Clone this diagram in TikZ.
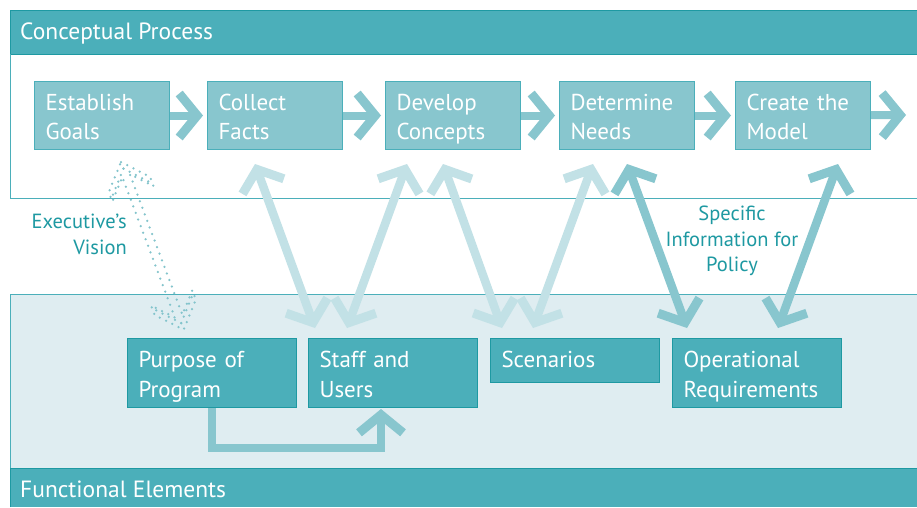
\documentclass[tikz,border=0pt]{standalone}
\usepackage{fontspec}
\setmainfont{PT Sans}
\usetikzlibrary{arrows.meta,calc}

\definecolor{tealdark}{HTML}{1E99A2}
\definecolor{tealmid}{HTML}{4BAFBA}
\definecolor{teallight}{HTML}{88C6CE}
\definecolor{tealpale}{HTML}{C2E1E6}
\definecolor{tealbg}{HTML}{DFEDF1}

\tikzset{
  chev/.tip={Straight Barb[length=18pt,width=44pt,line width=9pt]},
  conceptbox/.style={draw=tealmid,fill=teallight,line width=1pt,text=white,
    anchor=north west,minimum width=135pt,minimum height=68pt,
    text width=113pt,inner xsep=11pt,inner ysep=0pt,align=left,
    font=\fontsize{23}{29}\selectfont,
    execute at begin node={\rule{0pt}{24pt}},
    execute at end node={\rule[-5pt]{0pt}{5pt}}},
  elementbox/.style={conceptbox,draw=tealdark,fill=tealmid,
    minimum width=169pt,text width=147pt,minimum height=69pt,
    font=\fontsize{23}{30}\selectfont},
  flow/.style={draw=teallight,line width=8pt,line join=miter,-{chev}},
  paired/.style={draw=tealpale,line width=8.5pt,{chev}-{chev}},
  dotline/.style={draw=teallight!95!tealdark,line width=2.5pt,line cap=round,
    dash pattern=on 0pt off 7pt},
  bandtext/.style={text=white,anchor=base west,inner sep=0pt,
    font=\fontsize{23.5}{27}\selectfont},
  note/.style={text=tealdark,inner sep=0pt,font=\fontsize{20.5}{25.5}\selectfont}
}

\begin{document}
\begin{tikzpicture}[x=1pt,y=-1pt]
  \useasboundingbox (0,0) rectangle (917,507);
  \fill[white] (0,0) rectangle (917,507);

  % ---------------------------------------------- upper band: conceptual process
  \fill[tealmid] (10,10) rectangle (917,54);
  \draw[tealdark,line width=1pt] (917,10) -- (10,10) -- (10,54) -- (917,54);
  \node[bandtext] (cptitle) at (20,39) {Conceptual Process};
  \draw[tealmid,line width=1pt] (10,54) -- (10,198) -- (917,198);

  % ---------------------------------------------- lower band: functional elements
  \fill[tealbg] (10,294) rectangle (917,468);
  \draw[tealmid,line width=1pt] (917,294) -- (10,294) -- (10,468);
  \fill[tealmid] (10,468) rectangle (917,507);
  \draw[tealdark,line width=1pt] (10,507) -- (10,468) -- (917,468);
  \node[bandtext] (fetitle) at (20,497) {Functional Elements};

  % process steps
  \node[conceptbox] (goals)    at (34,81)  {Establish\\Goals};
  \node[conceptbox] (facts)    at (207,81) {Collect\\Facts};
  \node[conceptbox] (concepts) at (385,81) {Develop\\Concepts};
  \node[conceptbox] (needs)    at (559,81) {Determine\\Needs};
  \node[conceptbox] (model)    at (735,81) {Create the\\Model};
  \coordinate (modelout) at (906,115);

  \draw[flow,shorten >=4pt] (goals) -- (facts);
  \draw[flow,shorten >=4pt] (facts) -- (concepts);
  \draw[flow,shorten >=4pt] (concepts) -- (needs);
  \draw[flow,shorten >=4pt] (needs) -- (model);
  \draw[flow] (model) -- (modelout);

  % functional elements
  \node[elementbox] (purpose)   at (127,338) {Purpose of\\Program};
  \node[elementbox] (staff)     at (308,338) {Staff and\\Users};
  \node[elementbox,minimum height=44pt,
        execute at end node={\rule[-10pt]{0pt}{10pt}}] (scenarios) at (490,338) {Scenarios};
  \node[elementbox] (operational) at (672,338) {Operational\\Requirements};

  \coordinate (staffin) at ($(staff.south)+(-12,1)$);
  \draw[flow] (purpose.south) -- ++(0,40) -| (staffin);

  % links between the two bands
  \draw[paired] ($(facts.south west)+(48,14)$)    -- ($(staff.north west)+(7,-10)$);
  \draw[paired] ($(concepts.south west)+(22,14)$) -- ($(staff.north west)+(39,-10)$);
  \draw[paired] ($(concepts.south west)+(58,14)$) -- ($(scenarios.north west)+(12,-10)$);
  \draw[paired] ($(needs.south west)+(34,14)$)    -- ($(scenarios.north west)+(43,-10)$);
  \draw[paired,draw=teallight] ($(needs.south west)+(68,14)$)  -- ($(operational.north west)+(15,-10)$);
  \draw[paired,draw=teallight] ($(model.south west)+(103,14)$) -- ($(operational.north west)+(106,-10)$);

  % executive's vision (dotted)
  \begin{scope}[shift={(121,162)},x={(0.35pt,-0.937pt)},y={(0.937pt,0.35pt)}]
    \draw[dotline]
      (0,0) -- (24,22) -- (34,22) -- (14.5,4) -- (164.5,4) -- (145,22) -- (155,22)
      -- (179,0) -- (155,-22) -- (145,-22) -- (164.5,-4) -- (14.5,-4) -- (34,-22)
      -- (24,-22) -- cycle;
    \draw[dotline] (7,0) -- (29,20);
    \draw[dotline] (7,0) -- (29,-20);
    \draw[dotline] (172,0) -- (150,20);
    \draw[dotline] (172,0) -- (150,-20);
  \end{scope}

  \node[note,align=right,anchor=north east] (vision) at (127,214) {Executive’s\\Vision};
  \node[note,align=center,anchor=north] (policy) at (732,206) {Specific\\Information for\\Policy};
\end{tikzpicture}
\end{document}
